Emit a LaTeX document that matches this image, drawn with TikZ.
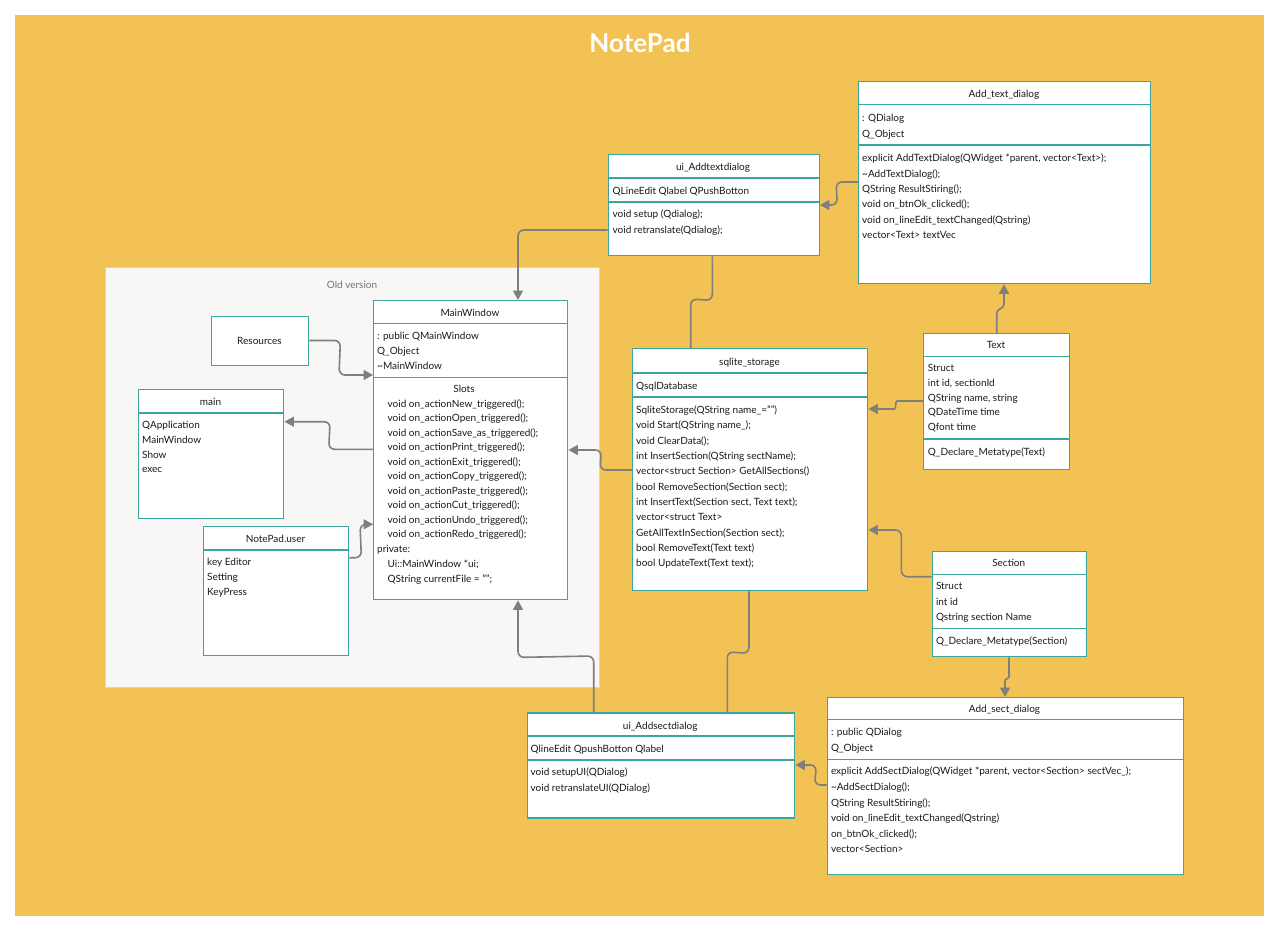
\documentclass[tikz,border=0pt]{standalone}
\usepackage{fontspec}
\setmainfont{Lato}
\usetikzlibrary{arrows.meta,calc}
\definecolor{bgyellow}{HTML}{F2C255}
\definecolor{tealb}{HTML}{3AA69C}
\definecolor{connc}{HTML}{7F7F7F}
\definecolor{panelfill}{HTML}{F8F7F5}
\definecolor{panelline}{HTML}{D5D5D5}
\definecolor{txtc}{HTML}{1A1A1A}
\tikzset{
  ubox/.style={draw=tealb, line width=1.4pt, fill=white, inner sep=0pt, anchor=north west},
  sepl/.style={draw=tealb, line width=1.4pt},
  txt/.style={inner sep=0pt, anchor=west, text height=7.5pt, text depth=0.5pt, font=\fontsize{10}{12}\selectfont, text=txtc},
  ttl/.style={txt, anchor=center},
  conn/.style={draw=connc, line width=1.6pt, rounded corners=6pt},
  arr/.style={conn, -{Triangle[length=9.5pt,width=10pt]}},
}
% box: name, x, y, w, h
\newcommand\umlbox[5]{\node[ubox, minimum width=#4pt, minimum height=#5pt] (#1) at (#2,#3) {};}
% separator: box name, offset from top
\newcommand\usep[2]{\draw[sepl] ($(#1.north west)+(0,#2)$) -- ($(#1.north east)+(0,#2)$);}
\begin{document}
\begin{tikzpicture}[x=1pt,y=-1pt]
\useasboundingbox (0,0) rectangle (1280,931);
\fill[white] (0,0) rectangle (1280,931);
\fill[bgyellow] (15,15) rectangle (1264,916);
\node[font=\fontsize{26}{30}\selectfont\bfseries, text=white, inner sep=0pt] (title) at (640,43) {NotePad};

% old version panel
\node[draw=panelline, fill=panelfill, line width=1pt, anchor=north west, minimum width=494pt, minimum height=420pt, inner sep=0pt] (panel) at (105,267) {};
\node[txt, anchor=center, text=black!55] (oldlbl) at (352,284.5) {Old version};

% ui_Addtextdialog
\umlbox{uatd}{607.5}{154}{211}{101}
\usep{uatd}{24}\usep{uatd}{48}
\node[ttl] (uatd-t) at (713,167) {ui\_Addtextdialog};
\node[txt] (uatd-a) at (612.5,190.5) {QLineEdit Qlabel QPushBotton};
\foreach \t [count=\i] in {void setup (Qdialog);, void retranslate(Qdialog);}
  \node[txt] (uatd-m\i) at (612.5,{214.3+(\i-1)*15.5}) {\t};

% Add_text_dialog
\umlbox{atd}{858}{81}{292}{202}
\usep{atd}{23.5}\usep{atd}{64}
\node[ttl] (atd-t) at (1004,94.3) {Add\_text\_dialog};
\foreach \t [count=\i] in {: QDialog, Q\_Object}
  \node[txt] (atd-a\i) at (862,{117.8+(\i-1)*16.3}) {\t};
\foreach \t [count=\i] in {{explicit AddTextDialog(QWidget *parent, vector<Text>);}, \textasciitilde AddTextDialog();, QString ResultStiring();, void on\_btnOk\_clicked();, void on\_lineEdit\_textChanged(Qstring), vector<Text> textVec}
  \node[txt] (atd-m\i) at (862,{158.3+(\i-1)*15.35}) {\t};

% MainWindow
\umlbox{mw}{373}{300}{194}{299}
\usep{mw}{23.5}\usep{mw}{77.5}
\node[ttl] (mw-t) at (470,313) {MainWindow};
\foreach \t [count=\i] in {: public QMainWindow, Q\_Object, \textasciitilde MainWindow}
  \node[txt] (mw-a\i) at (377,{335.6+(\i-1)*15.2}) {\t};
\node[ttl] (mw-s) at (464,389) {Slots};
\foreach \t [count=\i] in {void on\_actionNew\_triggered();, void on\_actionOpen\_triggered();, void on\_actionSave\_as\_triggered();, void on\_actionPrint\_triggered();, void on\_actionExit\_triggered();, void on\_actionCopy\_triggered();, void on\_actionPaste\_triggered();, void on\_actionCut\_triggered();, void on\_actionUndo\_triggered();, void on\_actionRedo\_triggered();}
  \node[txt] (mw-m\i) at (387.5,{403.7+(\i-1)*14.52}) {\t};
\node[txt] (mw-p) at (377,549) {private:};
\node[txt] (mw-p1) at (387.5,563.5) {Ui::MainWindow *ui;};
\node[txt] (mw-p2) at (387.5,579.3) {QString currentFile = "";};

% Resources
\umlbox{res}{211}{316}{97}{49}
\node[ttl] (res-t) at (259.5,341) {Resources};

% main
\umlbox{main}{138}{389}{145}{129}
\usep{main}{24}
\node[ttl] (main-t) at (210.5,402.3) {main};
\foreach \t [count=\i] in {QApplication, MainWindow, Show, exec}
  \node[txt] (main-a\i) at (142,{424.7+(\i-1)*14.9}) {\t};

% NotePad.user
\umlbox{npu}{203}{526}{145}{129}
\usep{npu}{24}
\node[ttl] (npu-t) at (275.5,539.3) {NotePad.user};
\foreach \t [count=\i] in {key Editor, Setting, KeyPress}
  \node[txt] (npu-a\i) at (207,{562+(\i-1)*15.2}) {\t};

% sqlite_storage
\umlbox{sql}{632}{348}{235}{242}
\usep{sql}{25}\usep{sql}{49}
\node[ttl] (sql-t) at (749.5,361.7) {sqlite\_storage};
\node[txt] (sql-a) at (636,385.7) {QsqlDatabase};
\foreach \t [count=\i] in {SqliteStorage(QString name\_=""), void Start(QString name\_);, void ClearData();, int InsertSection(QString sectName);, vector<struct Section> GetAllSections(), bool RemoveSection(Section sect);, {int InsertText(Section sect, Text text);}, vector<struct Text>, GetAllTextInSection(Section sect);, bool RemoveText(Text text), bool UpdateText(Text text);}
  \node[txt] (sql-m\i) at (636,{410+(\i-1)*15.33}) {\t};

% Text
\umlbox{txtb}{923}{333}{146}{136}
\usep{txtb}{23.5}\usep{txtb}{106}
\node[ttl] (txtb-t) at (996,345) {Text};
\foreach \t [count=\i] in {Struct, {int id, sectionId}, {QString name, string}, QDateTime time, Qfont time}
  \node[txt] (txtb-a\i) at (927.7,{367.7+(\i-1)*14.9}) {\t};
\node[txt] (txtb-b) at (927.7,452) {Q\_Declare\_Metatype(Text)};

% Section
\umlbox{sec}{931.5}{550.5}{154.5}{105.5}
\usep{sec}{24}\usep{sec}{78}
\node[ttl] (sec-t) at (1008.7,563.3) {Section};
\foreach \t [count=\i] in {Struct, int id, Qstring section Name}
  \node[txt] (sec-a\i) at (935.8,{586+(\i-1)*15.5}) {\t};
\node[txt] (sec-b) at (935.8,641) {Q\_Declare\_Metatype(Section)};

% Add_sect_dialog
\umlbox{asd}{826.5}{697}{356}{176.5}
\usep{asd}{22.5}\usep{asd}{62.5}
\node[ttl] (asd-t) at (1004.5,709.3) {Add\_sect\_dialog};
\foreach \t [count=\i] in {: public QDialog, Q\_Object}
  \node[txt] (asd-a\i) at (830.8,{732+(\i-1)*16.3}) {\t};
\foreach \t [count=\i] in {{explicit AddSectDialog(QWidget *parent, vector<Section> sectVec\_);}, \textasciitilde AddSectDialog();, QString ResultStiring();, void on\_lineEdit\_textChanged(Qstring), on\_btnOk\_clicked();, vector<Section>}
  \node[txt] (asd-m\i) at (830.8,{771.3+(\i-1)*15.6}) {\t};

% ui_Addsectdialog
\umlbox{uasd}{526.5}{712.3}{267.5}{105}
\usep{uasd}{23.5}\usep{uasd}{47.5}
\node[ttl] (uasd-t) at (660.2,725.7) {ui\_Addsectdialog};
\node[txt] (uasd-a) at (530.5,749) {QlineEdit QpushBotton Qlabel};
\foreach \t [count=\i] in {void setupUI(QDialog), void retranslateUI(QDialog)}
  \node[txt] (uasd-m\i) at (530.5,{772.3+(\i-1)*15.4}) {\t};

% ---------- connectors ----------
% ui_Addtextdialog -> MainWindow
\draw[arr] ($(uatd.north west)+(0,76)$) -| ($(mw.north west)+(145,0)$);
% ui_Addtextdialog -- sqlite_storage
\draw[conn] ($(uatd.south west)+(104.8,0)$) -- ($(uatd.south west)+(104.8,44)$) -- ($(sql.north west)+(58.7,-49)$) -- ($(sql.north west)+(58.7,0)$);
% Add_text_dialog -> ui_Addtextdialog
\draw[arr] ($(atd.north west)+(0,101)$) -- ($(atd.north west)+(-22,101)$) -- ($(uatd.north east)+(17.5,51)$) -- ($(uatd.north east)+(0,51)$);
% Text -> Add_text_dialog
\draw[arr] ($(txtb.north west)+(73.7,0)$) -- ($(txtb.north west)+(73.7,-14)$) .. controls ($(txtb.north west)+(73.7,-24)$) and ($(atd.south west)+(146,24)$) .. ($(atd.south west)+(146,14)$) -- ($(atd.south west)+(146,0)$);
% Text -> sqlite_storage
\draw[arr] ($(txtb.north west)+(0,68)$) -- ($(txtb.north west)+(-20,68)$) .. controls ($(txtb.north west)+(-28,68)$) and ($(sql.north east)+(28,61)$) .. ($(sql.north east)+(20,61)$) -- ($(sql.north east)+(0,61)$);
% Section -> sqlite_storage
\draw[arr] ($(sec.north west)+(0,26.2)$) -| ($(sql.north east)+(33,182)$) -- ($(sql.north east)+(0,182)$);
% Section -> Add_sect_dialog
\draw[arr] ($(sec.south west)+(77.5,0)$) -- ($(sec.south west)+(77.5,13)$) .. controls ($(sec.south west)+(77.5,22)$) and ($(asd.north west)+(178.5,-19)$) .. ($(asd.north west)+(178.5,-10)$) -- ($(asd.north west)+(178.5,0)$);
% Add_sect_dialog -> ui_Addsectdialog
\draw[arr] ($(asd.north west)+(0,88)$) -- ($(asd.north west)+(-12,88)$) -- ($(uasd.north east)+(21,52.7)$) -- ($(uasd.north east)+(0,52.7)$);
% ui_Addsectdialog -- sqlite_storage
\draw[conn] ($(uasd.north west)+(200.8,0)$) -- ($(uasd.north west)+(200.8,-60.5)$) -- ($(sql.south west)+(117,62)$) -- ($(sql.south west)+(117,0)$);
% ui_Addsectdialog -> MainWindow
\draw[arr] ($(uasd.north west)+(67.2,0)$) -- ($(uasd.north west)+(67.2,-56.3)$) -- ($(mw.south west)+(145,57)$) -- ($(mw.south west)+(145,0)$);
% sqlite_storage -> MainWindow
\draw[arr] ($(sql.north west)+(0,122)$) -- ($(sql.north west)+(-32,122)$) -- ($(mw.north east)+(33,150)$) -- ($(mw.north east)+(0,150)$);
% Resources -> MainWindow
\draw[arr] ($(res.north east)+(0,24.5)$) -- ($(res.north east)+(31,24.5)$) -- ($(mw.north west)+(-34,75)$) -- ($(mw.north west)+(0,75)$);
% MainWindow -> main
\draw[arr] ($(mw.north west)+(0,149.3)$) -- ($(mw.north west)+(-44.3,149.3)$) -- ($(main.north east)+(45.7,32.7)$) -- ($(main.north east)+(0,32.7)$);
% NotePad.user -> MainWindow
\draw[arr] ($(npu.north east)+(0,31.7)$) -- ($(npu.north east)+(12,31.7)$) -- ($(mw.north west)+(-13,224.3)$) -- ($(mw.north west)+(0,224.3)$);
\end{tikzpicture}
\end{document}
